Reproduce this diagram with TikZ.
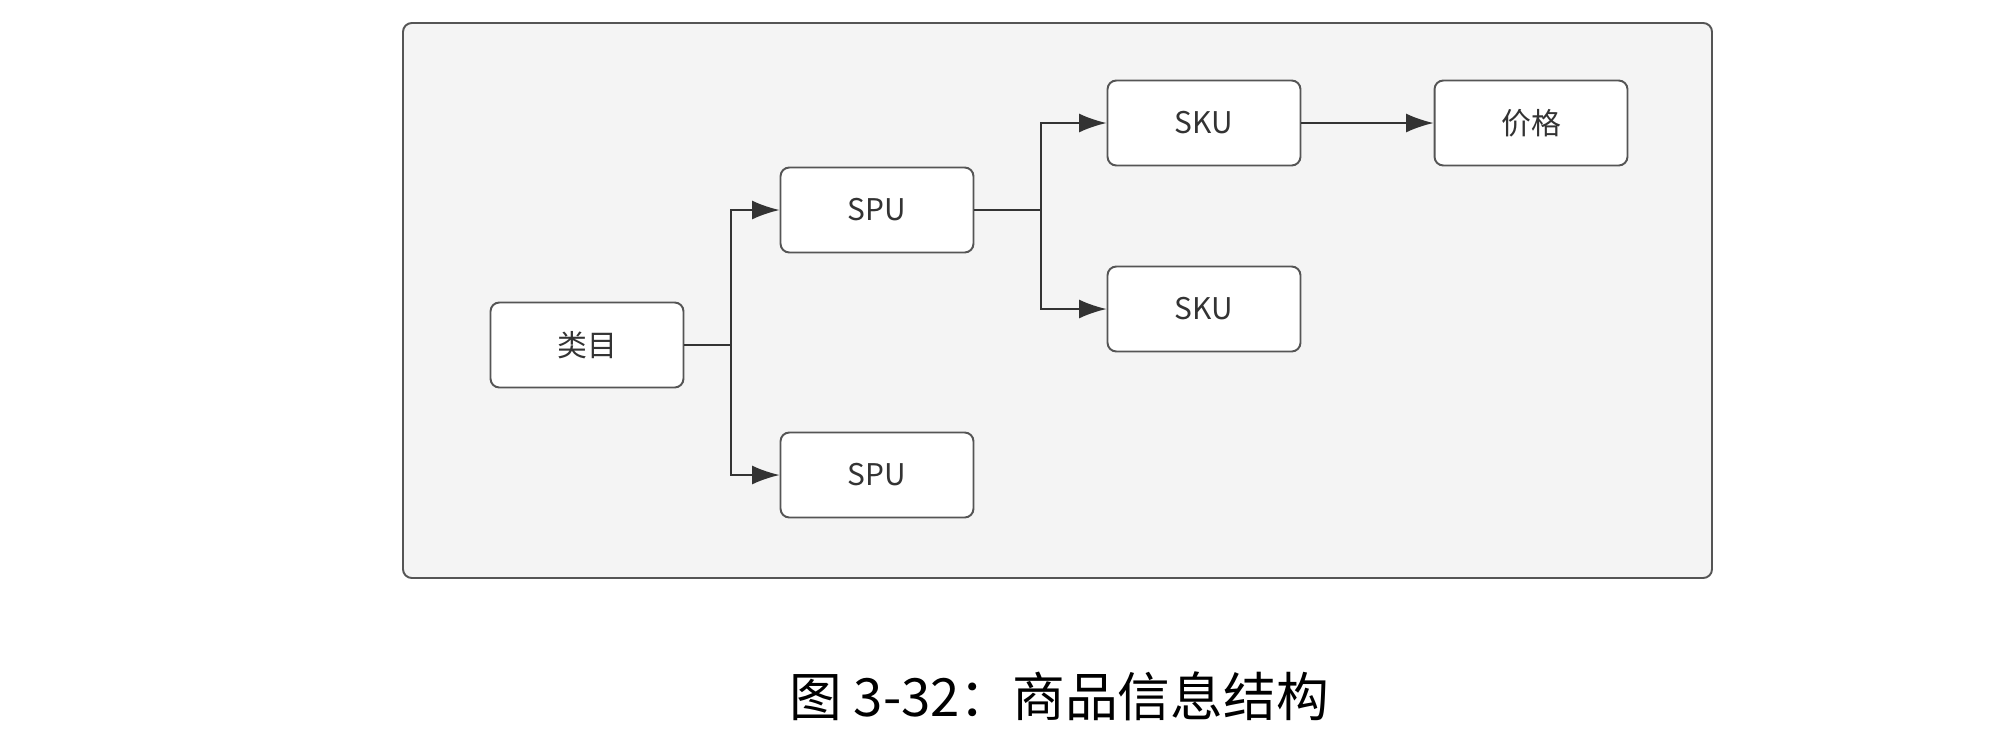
\documentclass[tikz,border=0pt]{standalone}
\usepackage{fontspec}
\setmainfont{Noto Sans CJK SC}
\usetikzlibrary{arrows.meta}
\definecolor{framebg}{HTML}{F4F4F4}
\definecolor{lineclr}{HTML}{555555}
\definecolor{txtclr}{HTML}{333333}
\tikzset{
  itembox/.style={draw=lineclr, line width=1.1pt, fill=white, rounded corners=5pt,
    minimum width=3.86cm, minimum height=1.7cm, inner sep=0pt,
    text=txtclr, font=\fontsize{17}{20}\selectfont},
  link/.style={draw=txtclr, line width=1.1pt, -{Latex[length=0.55cm,width=0.38cm]}},
  bare/.style={draw=txtclr, line width=1.1pt}
}
\begin{document}
\begin{tikzpicture}[x=0.02cm, y=-0.02cm]
\useasboundingbox (0,0) rectangle (1998,734);
\draw[draw=lineclr, line width=1.1pt, fill=framebg, rounded corners=5pt] (403,23) rectangle (1712,578);

\node[itembox] (cat) at (587,345) {类目};
\node[itembox] (spua) at (877,210) {SPU};
\node[itembox] (spub) at (877,475) {SPU};
\node[itembox] (skua) at (1204,123) {SKU};
\node[itembox] (skub) at (1204,309) {SKU};
\node[itembox] (price) at (1531,123) {价格};

\coordinate (splita) at (731,345);
\coordinate (splitb) at (1041,210);
\draw[bare] (cat.east) -- (splita);
\draw[link] (splita) |- (spua.west);
\draw[link] (splita) |- (spub.west);
\draw[bare] (spua.east) -- (splitb);
\draw[link] (splitb) |- (skua.west);
\draw[link] (splitb) |- (skub.west);
\draw[link] (skua.east) -- (price.west);

\node[font=\fontsize{30}{34}\selectfont] (caption) at (1059,696) {图 3-32：商品信息结构};
\end{tikzpicture}
\end{document}
